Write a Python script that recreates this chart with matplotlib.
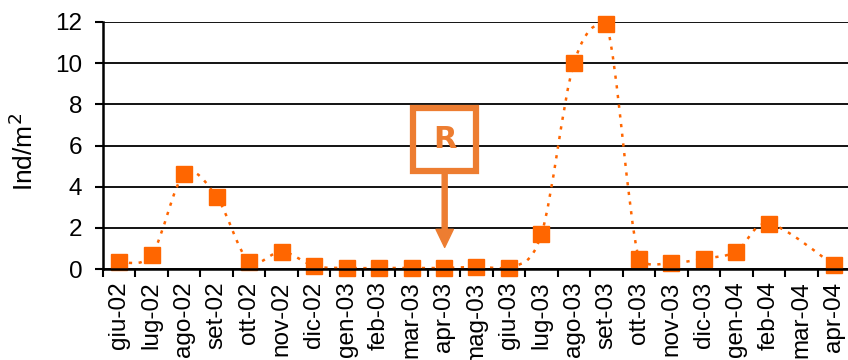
import numpy as np
import matplotlib.pyplot as plt
from matplotlib.path import Path
from matplotlib.patches import PathPatch, Rectangle

plt.rcParams['font.family'] = ['Liberation Sans', 'DejaVu Sans']

months = ['giu-02', 'lug-02', 'ago-02', 'set-02', 'ott-02', 'nov-02', 'dic-02',
          'gen-03', 'feb-03', 'mar-03', 'apr-03', 'mag-03', 'giu-03', 'lug-03',
          'ago-03', 'set-03', 'ott-03', 'nov-03', 'dic-03', 'gen-04', 'feb-04',
          'mar-04', 'apr-04']
density = [0.35, 0.7, 4.6, 3.5, 0.35, 0.85, 0.15,
           0.05, 0.05, 0.05, 0.05, 0.1, 0.05, 1.7,
           10.0, 11.9, 0.5, 0.3, 0.5, 0.85, 2.2,
           np.nan, 0.2]
marker_col = '#FF6600'
note_col = '#ED7D31'

x = np.arange(len(months))
y = np.array(density, dtype=float)

fig = plt.figure(figsize=(8.48, 3.6), dpi=100)
ax = fig.add_axes([103/848, 1-269/360, 747/848, 247/360])

# smoothed connector (Excel style bezier), gaps are bridged
ok = ~np.isnan(y)
px, py = x[ok].astype(float), y[ok]
verts = [(px[0], py[0])]
codes = [Path.MOVETO]
n = len(px)
for i in range(n-1):
    p0 = np.array([px[max(i-1, 0)], py[max(i-1, 0)]])
    p1 = np.array([px[i], py[i]])
    p2 = np.array([px[i+1], py[i+1]])
    p3 = np.array([px[min(i+2, n-1)], py[min(i+2, n-1)]])
    c1 = p1 + (p2 - p0)/6.0
    c2 = p2 - (p3 - p1)/6.0
    c1[1] = np.clip(c1[1], 0, 12)
    c2[1] = np.clip(c2[1], 0, 12)
    verts += [tuple(c1), tuple(c2), tuple(p2)]
    codes += [Path.CURVE4]*3
ax.add_patch(PathPatch(Path(verts, codes), fill=False, edgecolor=marker_col,
                       lw=1.8, linestyle=(0, (1.3, 2.6)), zorder=3))
ax.plot(x, y, linestyle='none', marker='s', markersize=12,
        color=marker_col, zorder=4, clip_on=False)

ax.set_xlim(-0.5, len(months)-0.5)
ax.set_ylim(0, 12)
ax.set_yticks(range(0, 13, 2))
ax.set_xticks(x)
ax.set_xticklabels(months, rotation=90, fontsize=17.5)
ax.set_xticks(np.arange(-0.5, len(months)), minor=True)
ax.tick_params(axis='x', which='major', length=0, pad=9)
ax.tick_params(axis='x', which='minor', length=6, width=1.5, direction='out')
ax.tick_params(axis='y', length=6, width=1.5, direction='out', pad=9, labelsize=17.5)
ax.yaxis.grid(True, color='black', lw=1.3)
ax.set_axisbelow(True)
for s in ['top', 'right']:
    ax.spines[s].set_visible(False)
for s in ['left', 'bottom']:
    ax.spines[s].set_linewidth(1.8)
    ax.spines[s].set_zorder(5)

fig.text(24/848, 1-152/360, 'Ind/m$^2$', rotation=90, fontsize=19,
         ha='center', va='center')

# "R" note with arrow at apr-03
ax.add_patch(Rectangle((9.05, 4.75), 1.95, 3.05, fill=False, edgecolor=note_col,
                       lw=4.5, zorder=6, clip_on=False))
ax.text(10.02, 6.3, 'R', color=note_col, fontsize=22, fontweight='bold',
        family=['Verdana', 'DejaVu Sans'], ha='center', va='center', zorder=6)
ax.annotate('', xy=(10.02, 1.05), xytext=(10.02, 4.6),
            arrowprops=dict(width=3.6, headwidth=12.5, headlength=13,
                            color=note_col, shrink=0),
            zorder=6)

fig.savefig('out.png', dpi=100)
